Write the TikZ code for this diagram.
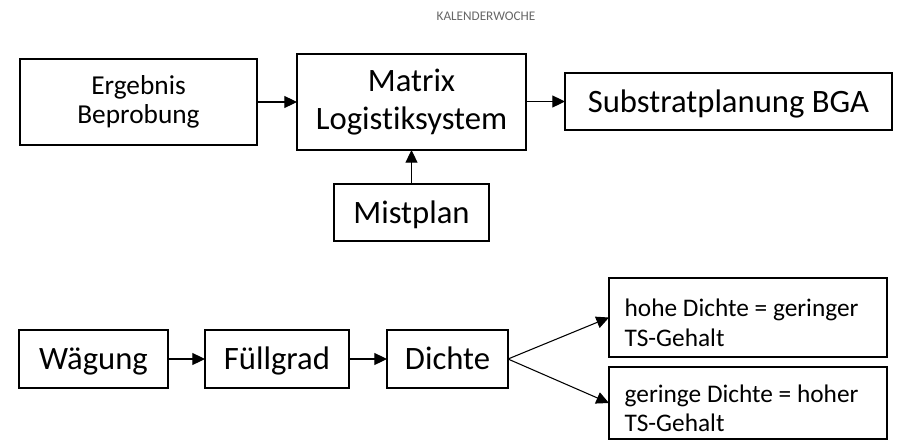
\documentclass[tikz,border=0pt]{standalone}
\usepackage{fontspec}
\setmainfont{Carlito}[Ligatures=NoCommon]
\usetikzlibrary{arrows.meta}
\newcommand{\obenstuetze}{\rule{0pt}{21pt}}
\tikzset{
  kasten/.style={draw, line width=1.6pt, inner sep=0pt, outer sep=0pt},
  gross/.style={font=\fontsize{24.5}{29}\selectfont, text height=22pt, text depth=6.1pt},
  zweizeilig/.style={align=flush left, text width=185pt, minimum width=208.5pt,
    font=\fontsize{19}{22}\selectfont},
  pfeil/.style={-{Triangle[length=9.5pt, width=9pt]}, line width=0.8pt},
}
\begin{document}
\begin{tikzpicture}[x=0.75pt, y=-0.75pt]
\useasboundingbox (0,0) rectangle (899,443);
% obere Kette
\node[font=\fontsize{9.9}{11}\selectfont, text=black!60] (kw) at (486,16) {KALENDERWOCHE};
\node[kasten, align=center, minimum width=177.75pt, minimum height=64.5pt, font=\fontsize{20.5}{21.5}\selectfont] (ergebnis) at (138.5,102) {Ergebnis\\Beprobung};
\node[kasten, align=center, minimum width=171.75pt, minimum height=72pt, font=\fontsize{24.5}{29}\selectfont] (matrix) at (411.5,102) {Matrix\\Logistiksystem};
\node[kasten, gross, minimum width=245.25pt, minimum height=42.75pt] (substrat) at (728.5,101.5) {Substratplanung BGA};
\node[kasten, gross, minimum width=116.25pt, minimum height=42.75pt] (mistplan) at (411.5,212.5) {Mistplan};
\draw[pfeil] (ergebnis) -- (matrix);
\draw[pfeil] (matrix.east |- substrat.west) -- (substrat.west);
\draw[pfeil] (mistplan) -- (matrix);
% untere Kette
\node[kasten, gross, minimum width=111.75pt, minimum height=43.5pt] (waegung) at (93.5,359) {Wägung};
\node[kasten, gross, minimum width=108pt, minimum height=43.5pt] (fuellgrad) at (277,359) {Füllgrad};
\node[kasten, gross, minimum width=90.75pt, minimum height=43.5pt] (dichte) at (447.5,359) {Dichte};
\node[kasten, zweizeilig, minimum height=59.25pt] (hoch) at (748,317.5) {\obenstuetze hohe Dichte = geringer\\TS-Gehalt};
\node[kasten, zweizeilig, minimum height=54pt] (gering) at (748,403) {\obenstuetze geringe Dichte = hoher\\TS-Gehalt};
\draw[pfeil] (waegung) -- (fuellgrad);
\draw[pfeil] (fuellgrad) -- (dichte);
\draw[pfeil] (dichte.east) -- (hoch.west);
\draw[pfeil] (dichte.east) -- (gering.west);
\end{tikzpicture}
\end{document}
